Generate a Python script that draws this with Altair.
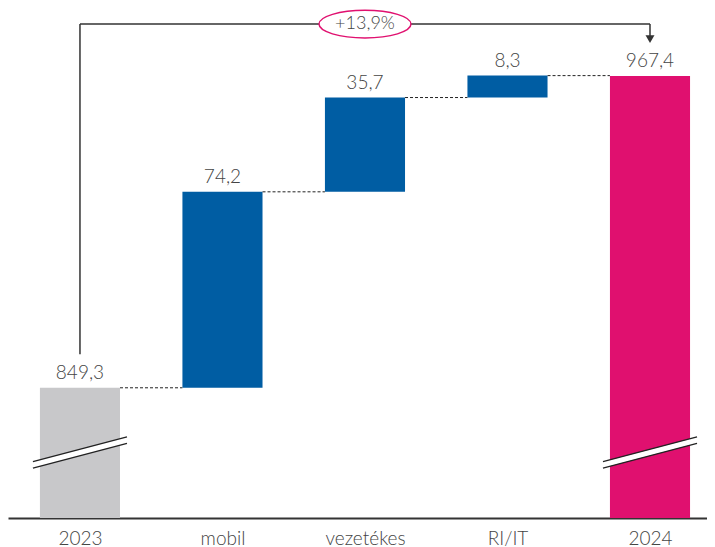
import altair as alt
import pandas as pd

categories = ["2023", "mobil", "vezetékes", "RI/IT", "2024"]
values = [849.3, 74.2, 35.7, 8.3, 967.4]
labels = ["849,3", "74,2", "35,7", "8,3", "967,4"]
kinds = ["total", "delta", "delta", "delta", "total"]
colors = ["#C8C8CA", "#005DA3", "#005DA3", "#005DA3", "#E0106F"]
change_label = "+13,9%"
axis_base = 800

HW = 0.281
rows = []
cum = 0.0
for i, (c, v, lab, k, col) in enumerate(zip(categories, values, labels, kinds, colors)):
    if k == "total":
        start, end = axis_base, v
        cum = v
    else:
        start, end = cum, cum + v
        cum = end
    rows.append(dict(i=i, x0=i - HW, x1=i + HW, start=start, end=end, label=lab, color=col, kind=k))
df = pd.DataFrame(rows)

conn = pd.DataFrame([
    dict(x0=rows[j]["x1"], x1=rows[j + 1]["x0"], y=rows[j]["end"]) for j in range(len(rows) - 1)
])

# break marks on total bars
brk_rows = []
for r in rows:
    if r["kind"] == "total":
        brk_rows.append(dict(x0=r["i"] - 0.33, x1=r["i"] + 0.33, y0=820.1, y1=829.5))
brk = pd.DataFrame(brk_rows)
brk_hi = brk.assign(y0=brk.y0 + 1.2, y1=brk.y1 + 1.2)
brk_lo = brk.assign(y0=brk.y0 - 1.2, y1=brk.y1 - 1.2)

bracket_y = 987.0
bracket = pd.DataFrame([
    dict(x0=0, x1=0, y0=862.0, y1=bracket_y),
    dict(x0=0, x1=4, y0=bracket_y, y1=bracket_y),
    dict(x0=4, x1=4, y0=bracket_y, y1=982.5),
])
arrow = pd.DataFrame([dict(x=4, y=981.3)])
bubble = pd.DataFrame([dict(x=2, y=bracket_y, label=change_label)])

FONT = "Lato"
label_expr = "[" + ",".join("'%s'" % c for c in categories) + "][datum.value]"

xscale = alt.Scale(domain=[-0.505, 4.4], nice=False, zero=False)
yscale = alt.Scale(domain=[axis_base, 993.1], nice=False, zero=False)

X = alt.X("x0:Q", scale=xscale,
          axis=alt.Axis(values=[0, 1, 2, 3, 4], labelExpr=label_expr, title=None,
                        ticks=False, grid=False, domainColor="#333333", domainWidth=2,
                        labelFont=FONT, labelFontSize=19, labelColor="#444444",
                        labelPadding=11, labelFontWeight=300))
Y = alt.Y("start:Q", scale=yscale, axis=None)

bars = alt.Chart(df).mark_bar().encode(
    x=X, x2="x1:Q", y=Y, y2="end:Q",
    color=alt.Color("color:N", scale=None),
)

text = alt.Chart(df).mark_text(baseline="bottom", dy=-5, font=FONT, fontSize=19,
                               fontWeight=300, color="#444444").encode(
    x=alt.X("i:Q", scale=xscale), y=alt.Y("end:Q", scale=yscale), text="label:N"
)

connectors = alt.Chart(conn).mark_rule(strokeDash=[3, 2], strokeWidth=1, color="#222222").encode(
    x=alt.X("x0:Q", scale=xscale), x2="x1:Q", y=alt.Y("y:Q", scale=yscale)
)

def brk_layer(d, color, width):
    return alt.Chart(d).mark_rule(color=color, strokeWidth=width).encode(
        x=alt.X("x0:Q", scale=xscale), x2="x1:Q",
        y=alt.Y("y0:Q", scale=yscale), y2="y1:Q"
    )

breaks = brk_layer(brk, "white", 6) + brk_layer(brk_hi, "#222222", 1.3) + brk_layer(brk_lo, "#222222", 1.3)

bracket_lines = alt.Chart(bracket).mark_rule(color="#333333", strokeWidth=1.5).encode(
    x=alt.X("x0:Q", scale=xscale), x2="x1:Q",
    y=alt.Y("y0:Q", scale=yscale), y2="y1:Q"
)
arrow_head = alt.Chart(arrow).mark_point(shape="triangle-down", filled=True, size=80,
                                         color="#333333", opacity=1).encode(
    x=alt.X("x:Q", scale=xscale), y=alt.Y("y:Q", scale=yscale)
)
ellipse = alt.Chart(bubble).mark_point(
    shape="M-1,0 A1,0.3 0 1,1 1,0 A1,0.3 0 1,1 -1,0 Z",
    size=92 * 92, filled=False, fill="white", fillOpacity=1, stroke="#E0106F",
    strokeWidth=1.5, opacity=1
).encode(x=alt.X("x:Q", scale=xscale), y=alt.Y("y:Q", scale=yscale))
bubble_text = alt.Chart(bubble).mark_text(font=FONT, fontSize=18, fontWeight=300,
                                          color="#444444", baseline="middle").encode(
    x=alt.X("x:Q", scale=xscale), y=alt.Y("y:Q", scale=yscale), text="label:N"
)

chart = alt.layer(
    bars, connectors, breaks, text, bracket_lines, arrow_head, ellipse, bubble_text
).properties(
    width=699, height=510,
    autosize=alt.AutoSizeParams(type="none"),
    padding={"left": 0, "top": 0, "right": 0, "bottom": 36},
).configure_view(stroke=None)

chart.save("out.html", embed_options={"renderer": "svg", "actions": False})
